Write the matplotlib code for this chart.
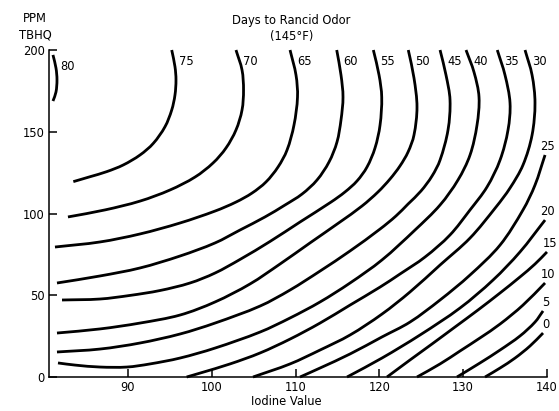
import matplotlib
matplotlib.use("Agg")
import numpy as np
import matplotlib.pyplot as plt
from matplotlib.path import Path
from matplotlib.patches import PathPatch

plt.rcParams['font.family'] = ['DejaVu Sans']

# Days-to-rancid-odor isolines: iodine value (x) vs ppm TBHQ (y)
iv_80 = [81.05, 81.41, 81.53, 81.41, 81.05]
tbhq_80 = [197.0, 189.0, 181.7, 174.3, 168.8]

iv_75 = [95.22, 95.61, 95.73, 95.61, 95.22, 94.42, 93.02, 91.44, 89.44, 87.46, 85.47, 83.48]
tbhq_75 = [200.0, 189.8, 181.7, 172.5, 163.3, 153.1, 142.9, 135.8, 129.7, 125.6, 122.5, 119.5]

iv_70 = [102.89, 103.61, 103.79, 103.61, 102.89, 101.70, 100.15, 98.00, 95.02, 91.44, 87.26, 82.84]
tbhq_70 = [200.0, 187.8, 175.5, 163.3, 151.1, 140.1, 130.9, 122.3, 114.4, 107.6, 102.2, 97.9]

iv_65 = [109.34, 110.05, 110.23, 109.81, 108.98, 107.90, 106.47, 104.80, 102.89, 100.39, 96.21,
         91.44, 86.66, 81.29]
tbhq_65 = [200.0, 184.7, 171.2, 154.1, 138.8, 128.4, 119.3, 112.5, 107.0, 101.5, 94.2,
           87.5, 82.6, 79.5]

iv_60 = [114.91, 115.42, 115.66, 115.42, 114.94, 113.99, 112.56, 110.77, 108.74, 106.35, 103.37,
         100.39, 96.21, 91.44, 86.66, 81.53]
tbhq_60 = [200.0, 184.7, 171.2, 157.2, 143.7, 131.5, 120.5, 111.9, 105.2, 97.9, 89.9,
           82.0, 74.0, 66.7, 61.8, 57.5]

iv_55 = [119.28, 119.96, 120.28, 120.08, 119.48, 118.52, 117.33, 115.90, 114.23, 110.53, 106.95,
         103.37, 100.39, 97.40, 93.82, 90.24, 86.66, 82.13]
tbhq_55 = [200.0, 184.7, 171.2, 154.1, 140.1, 128.4, 119.9, 113.2, 107.0, 94.8, 82.9,
           71.9, 63.6, 57.5, 52.9, 49.9, 47.7, 47.1]

iv_50 = [123.45, 124.13, 124.49, 124.13, 123.42, 122.46, 121.27, 119.84, 117.93, 115.30, 111.72,
         108.14, 104.56, 100.39, 96.21, 91.44, 86.66, 81.53]
tbhq_50 = [200.0, 182.9, 165.1, 148.0, 137.6, 129.1, 121.1, 113.2, 104.6, 94.8, 82.0,
           69.1, 56.9, 45.9, 37.9, 33.0, 29.4, 26.9]

iv_45 = [127.24, 127.95, 128.43, 128.19, 127.24, 126.28, 124.97, 123.42, 121.98, 120.08, 116.50,
         112.92, 109.34, 105.76, 100.39, 96.21, 91.44, 86.66, 81.53]
tbhq_45 = [200.0, 184.7, 169.4, 151.1, 132.7, 122.9, 113.8, 105.8, 98.5, 90.5, 77.1,
           64.8, 53.2, 43.4, 33.0, 26.3, 20.8, 17.1, 15.3]

iv_40 = [130.34, 131.29, 131.89, 131.65, 130.82, 129.38, 127.24, 124.25, 120.31, 116.50, 112.92,
         109.34, 105.76, 100.39, 96.21, 92.63, 89.88, 86.66, 83.68, 81.65]
tbhq_40 = [200.0, 186.5, 171.2, 154.1, 135.8, 120.5, 105.2, 89.9, 71.6, 57.5, 45.9,
           36.1, 27.5, 17.7, 11.6, 8.0, 6.1, 6.1, 7.3, 8.6]

iv_35 = [134.07, 134.99, 135.59, 135.35, 134.40, 132.84, 130.82, 128.43, 125.45, 122.46, 120.08,
         116.50, 112.92, 109.34, 105.76, 102.18, 98.60, 97.0]
tbhq_35 = [200.0, 184.7, 167.6, 151.1, 132.7, 116.2, 102.2, 86.9, 73.4, 63.0, 55.0,
           44.0, 33.0, 23.2, 14.7, 8.0, 2.4, 0.0]

iv_30 = [137.38, 138.22, 138.57, 138.22, 137.14, 135.59, 133.92, 130.82, 127.24, 123.65, 120.31,
         116.50, 112.92, 109.34, 104.92]
tbhq_30 = [200.0, 184.7, 167.6, 148.0, 129.7, 115.6, 104.0, 85.0, 68.5, 52.0, 38.5,
           25.7, 16.5, 8.0, 0.0]

iv_25 = [139.77, 138.57, 137.14, 134.40, 130.82, 127.24, 123.65, 120.31, 116.50, 112.92, 110.53]
tbhq_25 = [135.8, 117.4, 102.2, 80.7, 62.4, 47.1, 33.6, 24.5, 14.1, 5.5, 0.0]

iv_20 = [139.77, 136.78, 133.56, 129.62, 124.85, 120.31, 116.14]
tbhq_20 = [96.0, 76.5, 59.3, 42.2, 25.7, 11.6, 0.0]

iv_15 = [140.0, 138.57, 136.78, 134.40, 131.77, 129.03, 126.28, 123.65, 120.91]
tbhq_15 = [76.5, 69.1, 61.2, 51.4, 41.0, 30.6, 20.2, 10.4, 0.0]

iv_10 = [139.77, 137.14, 134.40, 132.01, 129.62, 127.24, 124.49]
tbhq_10 = [57.5, 44.0, 32.4, 23.9, 15.9, 8.0, 0.0]

iv_5 = [139.53, 138.57, 136.78, 134.40, 132.01, 129.26]
tbhq_5 = [40.4, 33.6, 25.1, 16.5, 8.6, 0.0]

iv_0 = [139.53, 137.98, 136.19, 134.40, 132.61]
tbhq_0 = [26.9, 19.0, 11.6, 5.5, 0.0]

top_curves = [(80, iv_80, tbhq_80), (75, iv_75, tbhq_75), (70, iv_70, tbhq_70),
              (65, iv_65, tbhq_65), (60, iv_60, tbhq_60), (55, iv_55, tbhq_55),
              (50, iv_50, tbhq_50), (45, iv_45, tbhq_45), (40, iv_40, tbhq_40),
              (35, iv_35, tbhq_35), (30, iv_30, tbhq_30)]
side_curves = [(25, iv_25, tbhq_25), (20, iv_20, tbhq_20), (15, iv_15, tbhq_15),
               (10, iv_10, tbhq_10), (5, iv_5, tbhq_5), (0, iv_0, tbhq_0)]

fig = plt.figure(figsize=(5.59, 4.11), dpi=100)
ax = fig.add_axes([0.0877, 0.0827, 0.8908, 0.7956])
ax.set_xlim(80.58, 140)
ax.set_ylim(0, 200)


def smooth_path(x, y):
    # chord-length Catmull-Rom through the points, worked out in screen space
    disp = ax.transData.transform(np.column_stack([x, y]))
    d = np.hypot(*np.diff(disp, axis=0).T)
    n = len(disp)
    tang = np.zeros_like(disp)
    tang[0] = (disp[1] - disp[0]) / d[0]
    tang[-1] = (disp[-1] - disp[-2]) / d[-1]
    for i in range(1, n - 1):
        tang[i] = (disp[i + 1] - disp[i - 1]) / (d[i - 1] + d[i])
    verts = [disp[0]]
    for i in range(n - 1):
        verts += [disp[i] + tang[i] * d[i] / 3,
                  disp[i + 1] - tang[i + 1] * d[i] / 3,
                  disp[i + 1]]
    verts = ax.transData.inverted().transform(np.array(verts))
    codes = [Path.MOVETO] + [Path.CURVE4] * (3 * (n - 1))
    return Path(verts, codes)


for days, x, y in top_curves + side_curves:
    ax.add_patch(PathPatch(smooth_path(x, y), fill=False, edgecolor='black', lw=2.0,
                           capstyle='butt', joinstyle='round', clip_on=False))

# labels sit just right of the top end, or just above the right-hand end
for days, x, y in top_curves:
    ax.annotate(str(days), (x[0], y[0]), xytext=(5, -8), textcoords='offset points',
                ha='left', va='center', fontsize=8.3, annotation_clip=False)
for days, x, y in side_curves:
    ax.annotate(str(days), (x[0], y[0]), xytext=(2, 6), textcoords='offset points',
                ha='center', va='center', fontsize=8.3, annotation_clip=False)

ax.set_xticks([90, 100, 110, 120, 130, 140])
ax.set_yticks([0, 50, 100, 150, 200])
ax.tick_params(direction='in', length=6, width=1.1, labelsize=8.3, pad=3, colors='black')
ax.spines['top'].set_visible(False)
ax.spines['right'].set_visible(False)
for s in ('left', 'bottom'):
    ax.spines[s].set_linewidth(1.1)

fig.text(0.521, 0.951, 'Days to Rancid Odor', ha='center', va='center', fontsize=8.3)
fig.text(0.521, 0.912, '(145°F)', ha='center', va='center', fontsize=8.3)
fig.text(0.0626, 0.956, 'PPM', ha='center', va='center', fontsize=8.3)
fig.text(0.0626, 0.915, 'TBHQ', ha='center', va='center', fontsize=8.3)
fig.text(0.513, 0.022, 'Iodine Value', ha='center', va='center', fontsize=8.3)

fig.savefig('out.png', dpi=100)
